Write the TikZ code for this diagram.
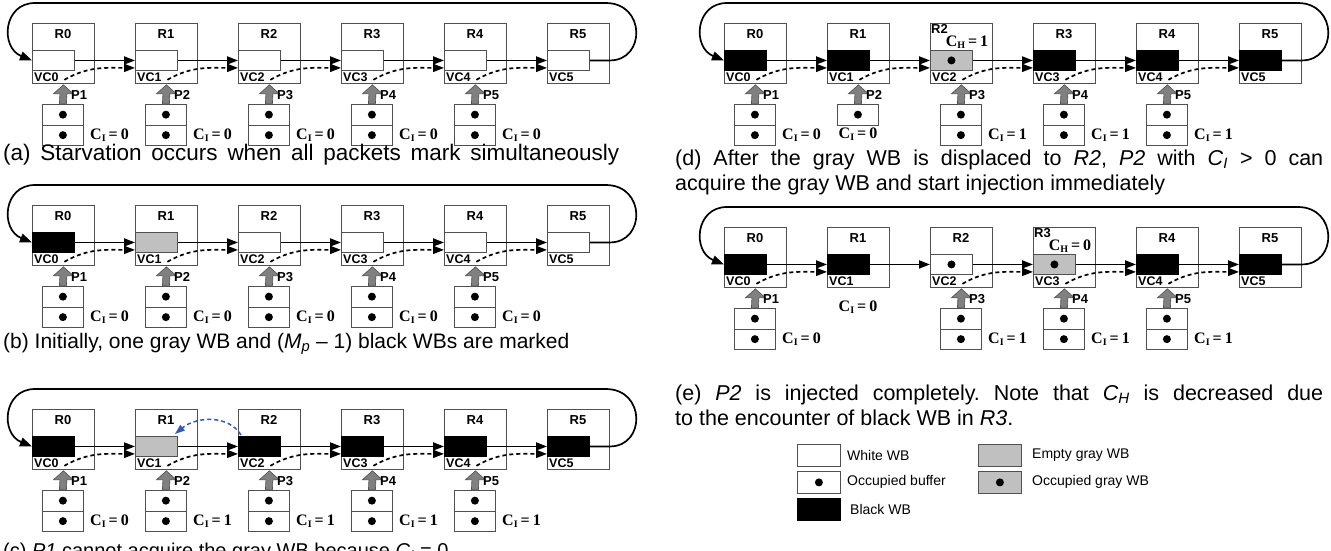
\documentclass[tikz,border=0pt]{standalone}
\usepackage{fontspec}
\setmainfont{Liberation Sans}
\newfontfamily\tnr{Liberation Serif}
\usetikzlibrary{arrows.meta,calc}
\frenchspacing
\definecolor{boxline}{HTML}{505050}
\definecolor{wbgray}{HTML}{C0C0C0}
\definecolor{injgray}{HTML}{808080}
\definecolor{arcblue}{HTML}{3558B5}
\tikzset{
  router/.style={draw=boxline,line width=0.8pt,minimum width=62pt,minimum height=60pt,inner sep=0pt,anchor=north west},
  vcw/.style={draw=boxline,line width=0.9pt,fill=white,minimum width=42pt,minimum height=20pt,inner sep=0pt,anchor=north west},
  vcb/.style={vcw,fill=black,draw=black},
  vcg/.style={vcw,fill=wbgray},
  cell/.style={draw=boxline,line width=0.8pt,fill=white,minimum width=41pt,minimum height=20.5pt,inner sep=0pt,anchor=north west},
  dot/.style={circle,fill=black,inner sep=0pt,minimum size=8pt},
  rlab/.style={font=\fontsize{13}{13}\selectfont\bfseries,inner sep=0pt},
  vclab/.style={font=\fontsize{12.5}{13}\selectfont\bfseries,inner sep=0pt,anchor=base west},
  plab/.style={font=\fontsize{13}{13}\selectfont\bfseries,inner sep=0pt,anchor=west},
  cilab/.style={inner sep=0pt,anchor=west},
  link/.style={line width=1.7pt,-{Triangle[length=11pt,width=8pt]}},
  dlink/.style={link,dash pattern=on 4pt off 3pt},
  loopline/.style={line width=1.7pt,-{Triangle[length=12pt,width=9pt]}},
  injarrow/.style={fill=injgray,draw=boxline,line width=0.6pt},
  caption/.style={font=\fontsize{21}{25}\selectfont,inner sep=0pt,anchor=base west},
  rcaption/.style={font=\fontsize{21.5}{25}\selectfont,inner sep=0pt,anchor=base west},
  legtext/.style={font=\fontsize{14}{16}\selectfont,inner sep=0pt,anchor=west},
  legbox/.style={draw=boxline,line width=0.8pt,minimum width=43pt,minimum height=22pt,inner sep=0pt,anchor=north west},
  bluearc/.style={arcblue,line width=1.5pt,dash pattern=on 4pt off 3pt,-{Triangle[length=10pt,width=7pt]}},
}
\newcommand\cval[2]{{\tnr\bfseries\fontsize{16}{16}\selectfont C\raisebox{-2.5pt}{\fontsize{10}{10}\selectfont #1}\hspace{3pt}=\hspace{3pt}#2}}
\newcommand\injarrowdraw[2]{%
  \draw[injarrow] ($(#1.north)+(-3.5,0)$) -- ($(#2.south)+(-3.5,10)$) -- ($(#2.south)+(-10,10)$) -- ($(#2.south)+(0,1)$) -- ($(#2.south)+(10,10)$) -- ($(#2.south)+(3.5,10)$) -- ($(#1.north)+(3.5,0)$) -- cycle;}
\newcommand\panelbase[5]{%
  \foreach \st [count=\i from 0] in {#4}{
    \node[router] (#1-R\i) at ({#2+32+103*\i},{#3+20}) {};
    \node[\st] (#1-V\i) at ({#2+32+103*\i},{#3+47}) {};
    \node[vclab] (#1-W\i) at ({#2+34+103*\i},{#3+78}) {VC\i};
    \ifnum\i=#5\relax
      \node[rlab,anchor=base west] (#1-L\i) at ({#2+33+103*\i},{#3+30}) {R\i};
    \else
      \node[rlab] (#1-L\i) at ({#2+63+103*\i},{#3+31}) {R\i};
    \fi
  }
  \foreach \i [evaluate=\i as \j using int(\i+1)] in {0,...,4}
    \draw[link] (#1-V\i.east) -- (#1-V\j.west);
  \draw[loopline] (#1-V5.east) -- (#1-R5.east |- #1-V5.east) .. controls +(36,0) and ($(#1-R5.north east)+(36,-20)$) .. ($(#1-R5.north east)+(-4,-20)$) -- ($(#1-R0.north west)+(3,-20)$) .. controls +(-32,0) and ($(#1-V0.west)+(-32,-13)$) .. (#1-V0.west);
}
\newcommand\inj[5]{%
  \pgfmathtruncatemacro\nx{#2+1}
  \node[cell] (#1-B#2) at ({#3+42+103*#2},{#4+101}) {};
  \node[cell] (#1-D#2) at ({#3+42+103*#2},{#4+121.5}) {};
  \node[dot] (#1-b#2) at (#1-B#2.center) {};
  \node[dot] (#1-d#2) at (#1-D#2.center) {};
  \injarrowdraw{#1-B#2}{#1-R#2}
  \node[plab] (#1-P#2) at ({#3+71+103*#2},{#4+92}) {P\nx};
  \node[cilab] (#1-C#2) at ({#3+90+103*#2},{#4+132}) {\cval{I}{#5}};
  \draw[dlink] ($(#1-R#2.south)+(1,-4)$) to[out=30,in=180] ($(#1-V\nx.south west)+(0,-3)$);
}
\begin{document}
\begin{tikzpicture}[x=1pt,y=-1pt]
\useasboundingbox (0,0) rectangle (1331,550);
% (a)
\panelbase{a}{0}{3}{vcw,vcw,vcw,vcw,vcw,vcw}{-1}
\foreach \k in {0,...,4} {\inj{a}{\k}{0}{3}{0}}
\node[caption,font=\fontsize{22.5}{26}\selectfont] (capa) at (3,160) {\makebox[616pt][s]{(a) Starvation occurs when all packets mark simultaneously}};
% (b)
\panelbase{b}{0}{185}{vcb,vcg,vcw,vcw,vcw,vcw}{-1}
\foreach \k in {0,...,4} {\inj{b}{\k}{0}{185}{0}}
\node[caption] (capb) at (3,348) {(b) Initially, one gray WB and (\textit{M}\textsubscript{\textit{p}} – 1) black WBs are marked};
% (c)
\panelbase{c}{0}{389}{vcb,vcg,vcb,vcb,vcb,vcb}{-1}
\inj{c}{0}{0}{389}{0}
\foreach \k in {1,...,4} {\inj{c}{\k}{0}{389}{1}}
\draw[bluearc] ($(c-V2.north west)+(3,-1)$) .. controls +(-12,-20) and +(22,-18) .. ($(c-V1.north east)+(-3,-2)$);
\node[caption,font=\fontsize{20}{24}\selectfont] (capc) at (3,557) {(c) \textit{P1} cannot acquire the gray WB because \textit{C}\textsubscript{\textit{I}} = 0};
% (d)
\panelbase{d}{692}{3}{vcb,vcb,vcg,vcb,vcb,vcb}{2}
\node[dot] (d-v2) at (d-V2.center) {};
\node[inner sep=0pt] (d-H2) at ({692+32+103*2+37},{3+39}) {\cval{H}{1}};
\inj{d}{0}{692}{3}{0}
\node[cell] (d-B1) at ({692+42+103},{3+101}) {};
\node[dot] (d-b1) at (d-B1.center) {};
\injarrowdraw{d-B1}{d-R1}
\node[plab] (d-P1) at ({692+71+103},{3+92}) {P2};
\node[inner sep=0pt] (d-C1) at ({692+63+103},{3+131}) {\cval{I}{0}};
\draw[dlink] ($(d-R1.south)+(1,-4)$) to[out=30,in=180] ($(d-V2.south west)+(0,-3)$);
\foreach \k in {2,...,4} {\inj{d}{\k}{692}{3}{1}}
\node[rcaption] (capd1) at (675,165) {\makebox[648pt][s]{(d) After the gray WB is displaced to \textit{R2}, \textit{P2} with \textit{C}\textsubscript{\textit{I}} > 0 can}};
\node[rcaption] (capd2) at (675,190) {acquire the gray WB and start injection immediately};
% (e)
\panelbase{e}{692}{207}{vcb,vcb,vcw,vcg,vcb,vcb}{3}
\node[dot] (e-v2) at (e-V2.center) {};
\node[dot] (e-v3) at (e-V3.center) {};
\node[inner sep=0pt] (e-H3) at ({692+32+103*3+37},{207+39}) {\cval{H}{0}};
\inj{e}{0}{692}{207}{0}
\node[inner sep=0pt] (e-C1) at ({692+63+103},{207+100}) {\cval{I}{0}};
\foreach \k in {2,...,4} {\inj{e}{\k}{692}{207}{1}}
\node[rcaption] (cape1) at (675,400) {\makebox[648pt][s]{(e) \textit{P2} is injected completely. Note that \textit{C}\textsubscript{\textit{H}} is decreased due}};
\node[rcaption] (cape2) at (675,425) {to the encounter of black WB in \textit{R3}.};
% legend
\node[legbox,fill=white] (lg1) at (797,444) {};
\node[legtext] (lt1) at (847,455) {White WB};
\node[legbox,fill=wbgray] (lg2) at (978,444) {};
\node[legtext] (lt2) at (1032,455) {Empty gray WB};
\node[legbox,fill=white] (lg3) at (797,471) {};
\node[dot] (lg3d) at (lg3.center) {};
\node[legtext] (lt3) at (847,482) {Occupied buffer};
\node[legbox,fill=wbgray] (lg4) at (978,471) {};
\node[dot] (lg4d) at (lg4.center) {};
\node[legtext] (lt4) at (1032,482) {Occupied gray WB};
\node[legbox,fill=black,draw=black] (lg5) at (797,498) {};
\node[legtext] (lt5) at (850,509) {Black WB};
\end{tikzpicture}
\end{document}
